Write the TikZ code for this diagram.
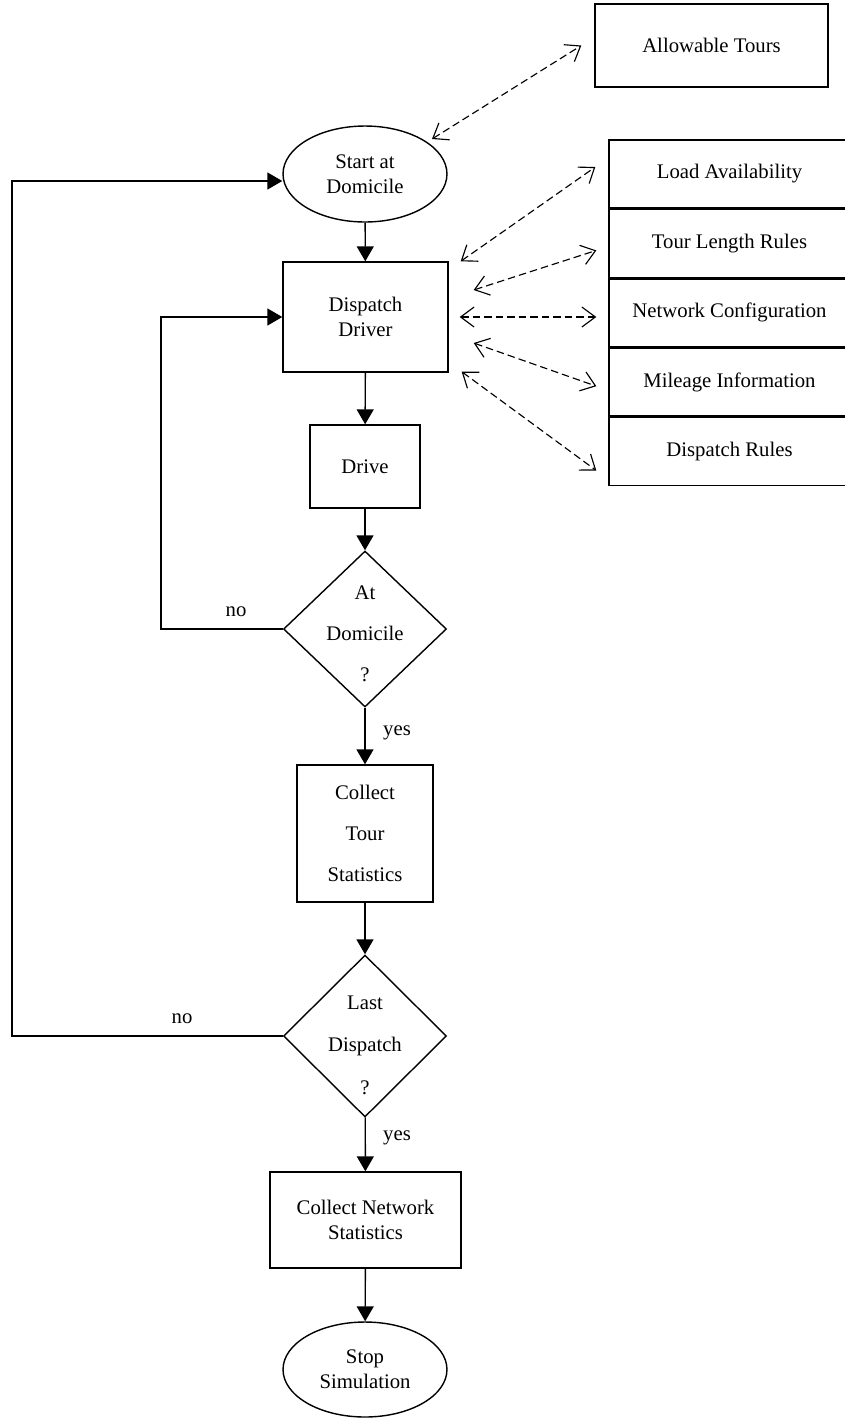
\documentclass[tikz,border=0pt]{standalone}
\usepackage{fontspec}
\setmainfont{Liberation Serif}
\usetikzlibrary{shapes.geometric,arrows.meta,positioning}

\begin{document}
\begin{tikzpicture}[
        x=0.02cm, y=-0.02cm,
        every node/.style={font=\fontsize{11.8}{14.2}\selectfont, align=center},
        term/.style={draw, ellipse, line width=0.8pt, minimum width=3.28cm, minimum height=1.92cm, inner sep=0pt},
        proc/.style={draw, rectangle, line width=0.8pt, inner sep=0pt},
        decide/.style={draw, diamond, line width=0.8pt, minimum width=3.26cm, inner sep=0pt},
        info/.style={draw, rectangle, line width=0.8pt, minimum width=4.82cm, minimum height=1.36cm, inner sep=0pt},
        flow/.style={line width=0.8pt, -{Triangle[length=0.3cm,width=0.34cm]}},
        query/.style={line width=0.65pt, dash pattern=on 0.15cm off 0.08cm,
          {Straight Barb[length=0.27cm,width=0.4cm]}-{Straight Barb[length=0.27cm,width=0.4cm]}}
      ]
      \useasboundingbox (0,0) rectangle (845,1418);
      \clip (0,0) rectangle (845,1418);

      % Main flow
      \node[term] (start) at (365,174) {Start at\\Domicile};
      \node[proc, minimum width=3.3cm, minimum height=2.2cm] (disp) at (365.5,317) {Dispatch\\Driver};
      \node[proc, minimum width=2.2cm, minimum height=1.66cm] (drive) at (365,466.5) {Drive};
      \node[decide, minimum height=3.12cm] (athome) at (365,629) {};
      \node (athometxt) at (365,634) {At\\[9pt]Domicile\\[9pt]?};
      \node[proc, minimum width=2.72cm, minimum height=2.74cm] (tourstat) at (365,833.5) {Collect\\[9pt]Tour\\[9pt]Statistics};
      \node[decide, minimum height=3.24cm] (lastdisp) at (365,1036) {};
      \node (lastdisptxt) at (365,1045) {Last\\[10pt]Dispatch\\[10pt]?};
      \node[proc, minimum width=3.82cm, minimum height=1.92cm] (netstat) at (365.5,1220) {Collect Network\\Statistics};
      \node[term, minimum height=1.9cm] (stop) at (365,1369.5) {Stop\\Simulation};

      % Data sources
      \node[proc, minimum width=4.66cm, minimum height=1.66cm] (allow) at (711.5,45.5) {Allowable Tours};
      \node[info] (load) at (729.5,174) {Load Availability};
      \node[info, below=0pt of load] (tourlen) {Tour Length Rules};
      \node[info, below=0pt of tourlen] (netconf) {Network Configuration};
      \node[info, below=0pt of netconf] (mileage) {Mileage Information};
      \node[info, below=0pt of mileage] (rules) {Dispatch Rules};

      % Branch labels
      \node (no1) at (236,612) {no};
      \node (yes1) at (397,733) {yes};
      \node (no2) at (182,1019) {no};
      \node (yes2) at (397,1138) {yes};

      \draw[flow] (start) -- (disp);
      \draw[flow] (disp) -- (drive);
      \draw[flow] (drive) -- (athome);
      \draw[flow] (athome) -- (tourstat);
      \draw[flow] (tourstat) -- (lastdisp);
      \draw[flow] (lastdisp) -- (netstat);
      \draw[flow] (netstat) -- (stop);
      \draw[flow] (athome.west) -- ++(-122,0) |- (disp.west);
      \draw[flow] (lastdisp.west) -- ++(-271,0) |- ([shift={(0,7)}]start.west);

      \draw[query] ([shift={(67,-35)}]start.center) -- ([shift={(-13,0)}]allow.west);
      \draw[query] ([shift={(12,0)}]disp.north east) -- ([shift={(-13,-7)}]load.west);
      \draw[query] ([shift={(25,-27)}]disp.east) -- ([shift={(-12,7)}]tourlen.west);
      \draw[query] ([shift={(11,0)}]disp.east) -- ([shift={(-12,0)}]netconf.west |- disp.east);
      \draw[query] ([shift={(25,26)}]disp.east) -- ([shift={(-12,4)}]mileage.west);
      \draw[query] ([shift={(13,-1)}]disp.south east) -- ([shift={(-12,19)}]rules.west);

    \end{tikzpicture}
\end{document}
